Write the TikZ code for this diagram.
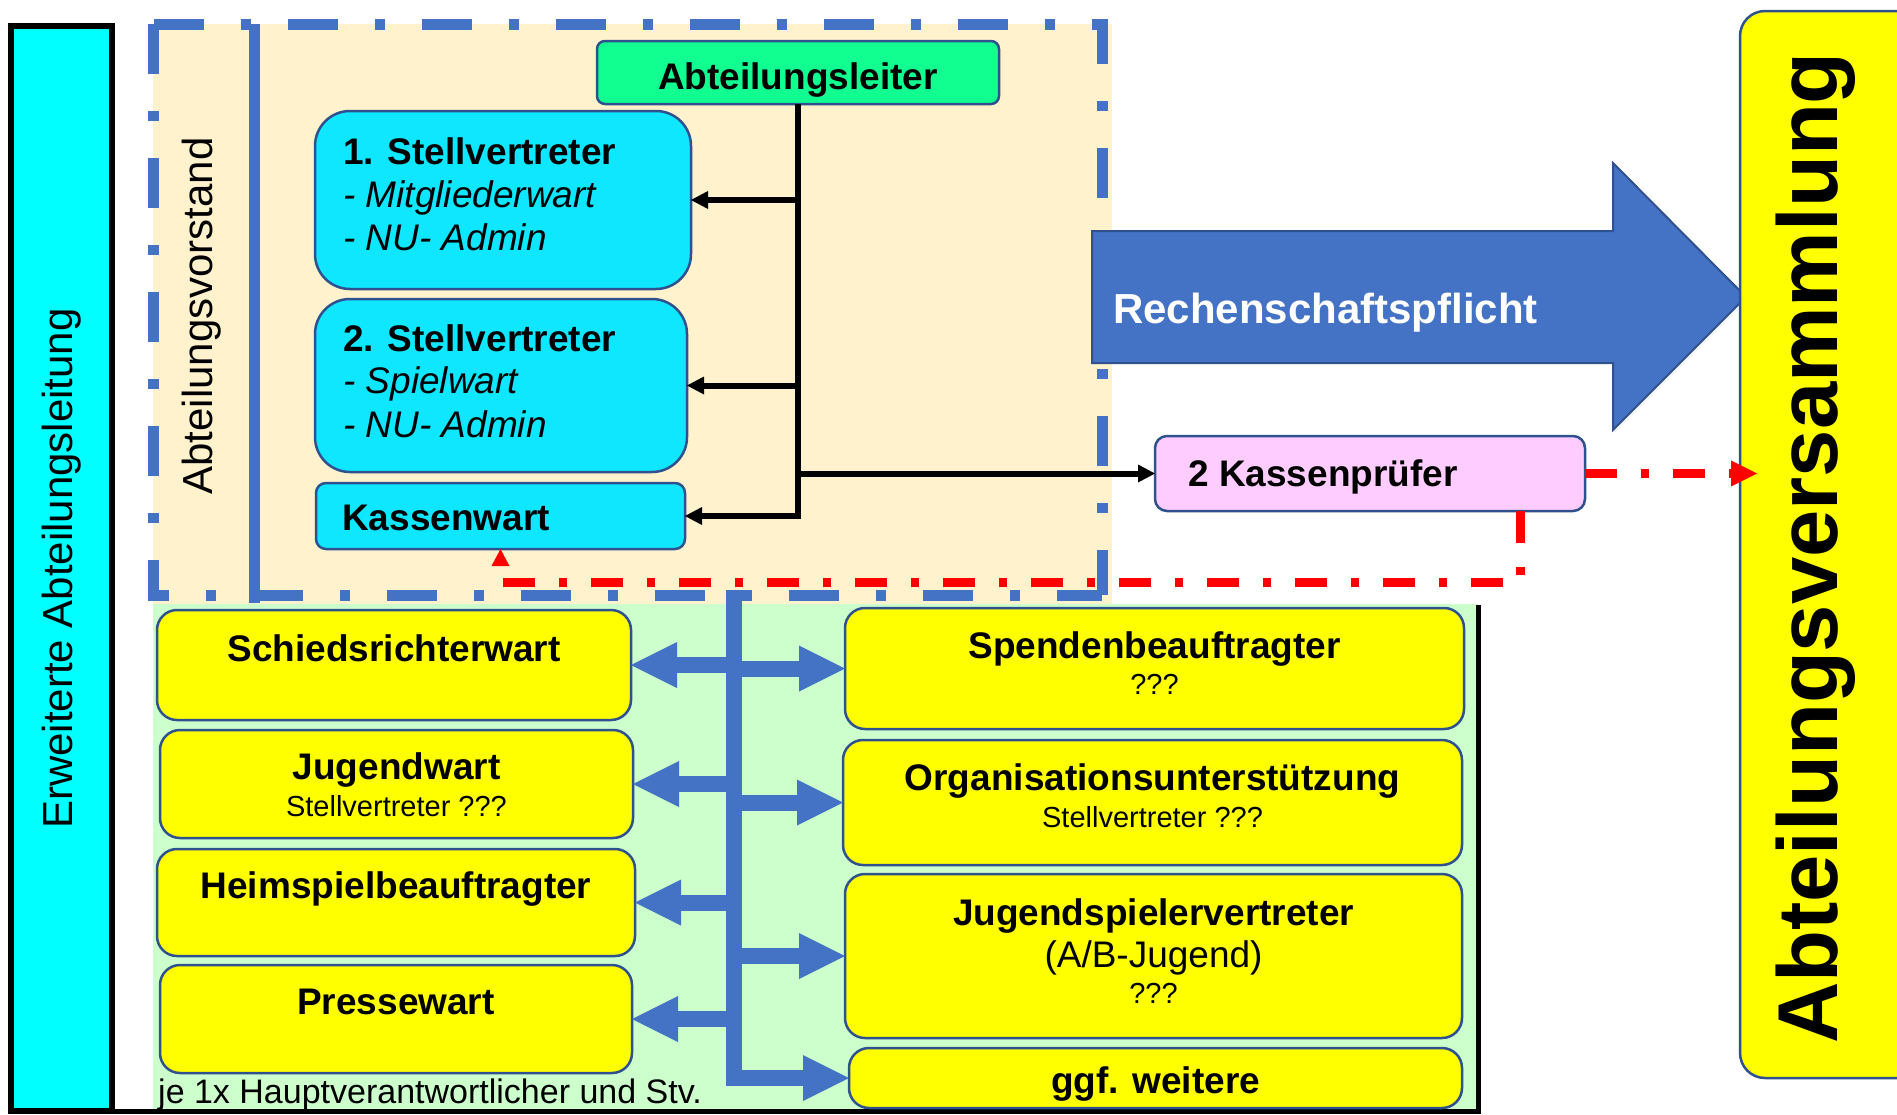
\documentclass[tikz,border=0pt]{standalone}
\usepackage{fontspec}
\setmainfont{Liberation Sans}
\usetikzlibrary{arrows.meta,calc}
\definecolor{beige}{HTML}{FFF2CC}
\definecolor{lgreen}{HTML}{CCFFCC}
\definecolor{yel}{HTML}{FFFF00}
\definecolor{cyanbox}{RGB}{15,230,255}
\definecolor{cyanbar}{HTML}{00FFFF}
\definecolor{algreen}{RGB}{16,255,144}
\definecolor{pinkbox}{HTML}{FFCCFF}
\definecolor{blu}{HTML}{4472C4}
\definecolor{edge}{HTML}{2F528F}
\definecolor{rd}{HTML}{FF0000}
\begin{document}
\begin{tikzpicture}[x=1pt,y=-1pt,
  box/.style={draw=edge, line width=2.5pt, inner sep=0pt, outer sep=0pt, rounded corners=#1},
  box/.default=20pt,
  bt/.style={inner sep=0pt, font=\fontsize{37}{44}\selectfont\bfseries},
  it/.style={inner sep=0pt, font=\fontsize{37}{44}\selectfont\itshape},
  rt/.style={inner sep=0pt, font=\fontsize{37}{44}\selectfont},
  st/.style={inner sep=0pt, font=\fontsize{29}{34}\selectfont},
  blk/.style={draw=black, line width=6pt, -{Triangle[length=17pt,width=18pt,line width=0pt]}},
  bla/.style={draw=blu, line width=16pt, -{Triangle[length=46pt,width=46pt,line width=0pt]}},
  rdl/.style={draw=rd, line width=9pt, dash pattern=on 32pt off 24pt on 8pt off 24pt, -{Triangle[length=26pt,width=26pt,line width=0pt]}},
  bdash/.style={draw=blu, line width=11pt, dash pattern=on 50pt off 37pt on 10pt off 37pt},
]
\useasboundingbox (0,0) rectangle (1897,1114);
\clip (0,0) rectangle (1897,1114);
\fill[white] (0,0) rectangle (1897,1114);

% background regions
\fill[lgreen] (153,604) rectangle (1478,1114);
\fill[beige] (153,24) rectangle (1112,604);
\draw[line width=5pt] (112,1111) -- (1478,1111) -- (1478,605);

% left bar
\node[draw=black, fill=cyanbar, line width=6pt, rotate=90, minimum width=1085pt, minimum height=101pt,
      inner sep=0pt, font=\fontsize{42}{50}\selectfont] (bar) at (61.5,568.5) {Erweiterte Abteilungsleitung};

% dashed frame Abteilungsvorstand
\draw[bdash] (153.5,24) -- (1102,24) -- (1102,595);
\draw[bdash] (153.5,24) -- (153.5,595) -- (1102,595);
\draw[blu, line width=11pt] (254,24) -- (254,603);
\node[rotate=90, inner sep=0pt, font=\fontsize{42}{50}\selectfont] (avs) at (202,316) {Abteilungsvorstand};

% board boxes
\node[box=8pt, fill=algreen, minimum width=402pt, minimum height=63pt] (al) at (798,72.5) {};
\node[bt, anchor=base] (alt) at (798,89) {Abteilungsleiter};

\node[box=35pt, fill=cyanbox, minimum width=376pt, minimum height=178pt] (s1) at (503,200) {};
\node[bt, anchor=base west] (s1a) at (343,164) {1. Stellvertreter};
\node[it, anchor=base west] (s1b) at (343,207) {- Mitgliederwart};
\node[it, anchor=base west] (s1c) at (343,250) {- NU- Admin};

\node[box=35pt, fill=cyanbox, minimum width=372pt, minimum height=173pt] (s2) at (501,385.5) {};
\node[bt, anchor=base west] (s2a) at (343,351) {2. Stellvertreter};
\node[it, anchor=base west] (s2b) at (343,393) {- Spielwart};
\node[it, anchor=base west] (s2c) at (343,437) {- NU- Admin};

\node[box=10pt, fill=cyanbox, minimum width=369pt, minimum height=66pt] (kw) at (500.5,516) {};
\node[bt, anchor=base west] (kwt) at (342,530) {Kassenwart};

\node[box=12pt, fill=pinkbox, minimum width=430pt, minimum height=75pt] (kp) at (1370,473.5) {};
\node[bt, anchor=base west] (kpt) at (1188,486) {2 Kassenprüfer};

% black connectors
\draw[blk] (al.south) |- (kw.east);
\draw[blk] (al.south |- s1.east) -- (s1.east);
\draw[blk] (al.south |- s2.east) -- (s2.east);
\draw[blk] (al.south |- kp.west) -- (kp.west);

% extended boxes left
\node[box, fill=yel, minimum width=474pt, minimum height=110pt] (sr) at (394,665) {};
\node[bt, anchor=base] (srt) at (394,661) {Schiedsrichterwart};
\node[box, fill=yel, minimum width=473pt, minimum height=108pt] (jw) at (396.5,784) {};
\node[bt, anchor=base] (jwt) at (396.5,779) {Jugendwart};
\node[st, anchor=base] (jws) at (396.5,816) {Stellvertreter ???};
\node[box, fill=yel, minimum width=478pt, minimum height=107pt] (hs) at (396,902.5) {};
\node[bt, anchor=base] (hst) at (396,898) {Heimspielbeauftragter};
\node[box, fill=yel, minimum width=472pt, minimum height=108pt] (pw) at (396,1019) {};
\node[bt, anchor=base] (pwt) at (396,1014) {Pressewart};
\node[inner sep=0pt, anchor=base west, font=\fontsize{34}{40}\selectfont] (note) at (158,1103) {je 1x Hauptverantwortlicher und Stv.};

% extended boxes right
\node[box, fill=yel, minimum width=619pt, minimum height=121pt] (sp) at (1154.5,668.5) {};
\node[bt, anchor=base] (spt) at (1154.5,658) {Spendenbeauftragter};
\node[st, anchor=base] (sps) at (1154.5,694) {???};
\node[box, fill=yel, minimum width=619pt, minimum height=125pt] (org) at (1152.5,802.5) {};
\node[bt, anchor=base] (orgt) at (1152.5,790) {Organisationsunterstützung};
\node[st, anchor=base] (orgs) at (1152.5,827) {Stellvertreter ???};
\node[box, fill=yel, minimum width=617pt, minimum height=164pt] (jsv) at (1153.5,956) {};
\node[bt, anchor=base] (jsvt) at (1153.5,925) {Jugendspielervertreter};
\node[rt, anchor=base] (jsvr) at (1153.5,967) {(A/B-Jugend)};
\node[st, anchor=base] (jsvs) at (1153.5,1003) {???};
\node[box, fill=yel, minimum width=613pt, minimum height=60pt] (ggf) at (1155.5,1078) {};
\node[bt, anchor=base] (ggft) at (1155.5,1093) {ggf. weitere};

% blue tree
\coordinate (tt) at (734,590);
\draw[bla] (tt) |- (ggf.west);
\foreach \n in {sr,jw,hs,pw} \draw[bla] (tt |- \n.east) -- (\n.east);
\foreach \n in {sp,org,jsv} \draw[bla] (tt |- \n.west) -- (\n.west);

% big arrow
\filldraw[fill=blu, draw=edge, line width=2pt] (1092,231) -- (1613,231) -- (1613,163) -- (1746,297)
   -- (1613,430) -- (1613,363) -- (1092,363) -- cycle;
\node[inner sep=0pt, anchor=base west, text=white, font=\fontsize{42}{50}\selectfont\bfseries] (rp) at (1113,323) {Rechenschaftspflicht};

% Abteilungsversammlung
\node[box=25pt, fill=yel, minimum width=210pt, minimum height=1067pt] (av) at (1845,544.5) {};
\node[rotate=90, inner sep=0pt, font=\fontsize{85}{100}\selectfont\bfseries] (avt) at (1816,548) {Abteilungsversammlung};

% red connectors
\coordinate (kpd) at ($(kp.south east)+(-65,0)$);
\draw[rdl, -{Triangle[length=17pt,width=18pt,line width=0pt]}] (kpd) -- ++(0,71) -| (kw.south);
\coordinate (kpe) at ($(kp.east -| av.west)+(17,0)$);
\draw[rdl] (kp.east) -- (kpe);
\end{tikzpicture}
\end{document}
